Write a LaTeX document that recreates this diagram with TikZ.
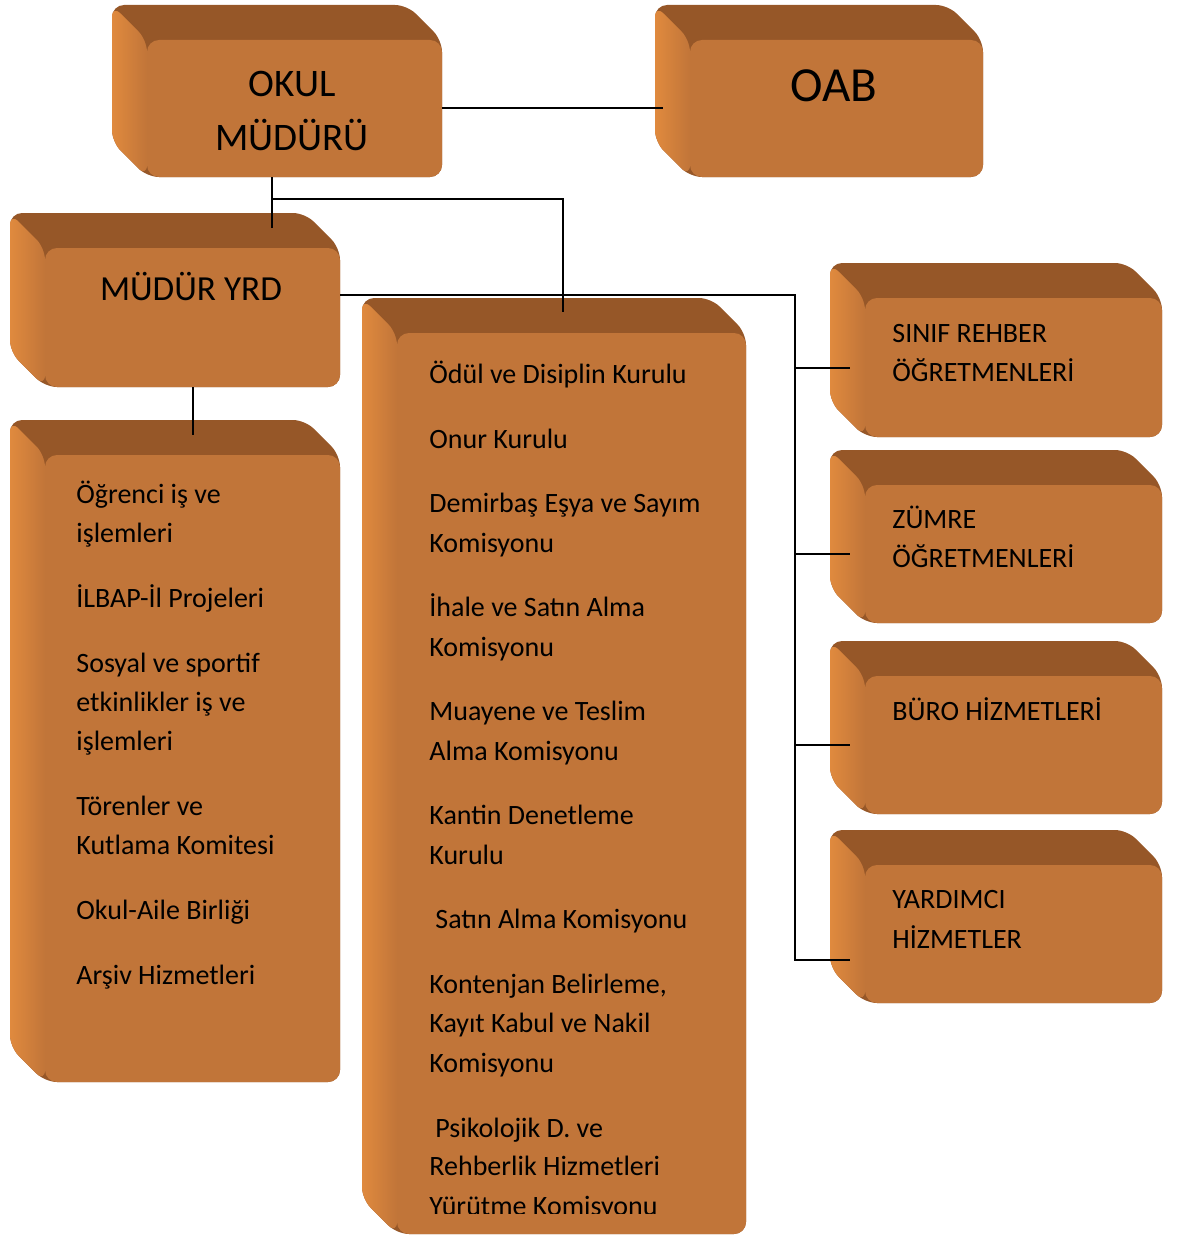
\documentclass[tikz,border=0pt]{standalone}
\usepackage{fontspec}
\setmainfont{Carlito}

\definecolor{frontc}{RGB}{193,117,57}
\definecolor{topc}{RGB}{150,87,40}
\definecolor{sidec}{RGB}{224,138,62}

\begin{document}
\begin{tikzpicture}[x=0.5pt, y=-0.5pt,
	face/.style={fill=frontc, rounded corners=6pt, inner sep=0pt},
	link/.style={line width=1pt},
	title/.style={font=\fontsize{19.5}{27}\selectfont, align=center, inner sep=0pt},
	item/.style={font=\fontsize{14}{19.75}\selectfont, anchor=base west, inner sep=0pt}]
	\useasboundingbox (0,0) rectangle (1186,1236);
	% boxes: back (top face), left face, front face
	\foreach \n/\xa/\ya/\xb/\yb in {okul/112/5/442/177, oab/655/5/983/177, yrd/10/213/340/387, lst/10/420/340/1082, kur/362/298/746/1234, sinif/830/263/1162/437, zumre/830/450/1162/623, buro/830/641/1162/814, yard/830/830/1162/1003} {
		\fill[topc, rounded corners=6pt] (\xa,\ya) -- (\xb-35,\ya) -- (\xb,\ya+35) -- (\xb,\yb) -- (\xa+35,\yb) -- (\xa,\yb-35) -- cycle;
		\shade[left color=sidec, right color=frontc, rounded corners=6pt] (\xa,\ya) -- (\xa+35,\ya+35) -- (\xa+35,\yb) -- (\xa,\yb-35) -- cycle;
		\node[face, minimum width={(\xb-\xa-35)*0.5pt}, minimum height={(\yb-\ya-35)*0.5pt}] (\n) at ({(\xa+35+\xb)/2},{(\ya+35+\yb)/2}) {};
	}
	% connectors
	\coordinate (j1) at (272,199);
	\coordinate (j4) at (563,199);
	\coordinate (j2) at (795,295);
	\coordinate (j3) at (795,960);
	\draw[link] (okul.east) -- ([xshift=-13.5pt]oab.west);
	\draw[link] (okul.south -| j1) -- ([yshift=10pt]j1 |- yrd.north);
	\draw[link] (j1) -- (j4) -- ([yshift=10.5pt]j4 |- kur.north);
	\draw[link] (yrd.south) -- ([yshift=10pt]lst.north);
	\draw[link] (yrd.east |- j2) -- (j2) -- (j3) -- ([xshift=-7.5pt]yard.west |- j3);
	\foreach \n in {sinif, zumre, buro}
		\draw[link] (j2 |- \n.west) -- ([xshift=-7.5pt]\n.west);
	% texts
	\node[title] (t-okul) at (292,111) {OKUL\\MÜDÜRÜ};
	\node[title, font=\fontsize{24.5}{30}\selectfont, anchor=base] (t-oab) at (834,102) {OAB};
	\node[title, font=\fontsize{17.6}{24}\selectfont, anchor=base] (t-yrd) at (191,300) {MÜDÜR YRD};
	\foreach \t/\x/\y [count=\i] in {Öğrenci iş ve/76/503, işlemleri/76/542, İLBAP-İl Projeleri/76/607, Sosyal ve sportif/76/672, etkinlikler iş ve/76/711, işlemleri/76/750, Törenler ve/76/815, Kutlama Komitesi/76/854, Okul-Aile Birliği/76/919, Arşiv Hizmetleri/76/984}
		\node[item] (lst-\i) at (\x,\y) {\t};
	\foreach \t/\x/\y [count=\i] in {Ödül ve Disiplin Kurulu/429/383, Onur Kurulu/429/448, Demirbaş Eşya ve Sayım/429/512, Komisyonu/429/552, İhale ve Satın Alma/429/616, Komisyonu/429/656, Muayene ve Teslim/429/720, Alma Komisyonu/429/760, Kantin Denetleme/429/824, Kurulu/429/864, Satın Alma Komisyonu/435/928, {Kontenjan Belirleme,}/429/993, Kayıt Kabul ve Nakil/429/1032, Komisyonu/429/1072, Psikolojik D. ve/435/1137, Rehberlik Hizmetleri/429/1175}
		\node[item] (kur-\i) at (\x,\y) {\t};
	\begin{scope}
		\clip (397,1000) rectangle (746,1213);
		\node[item] (kur-17) at (429,1215) {Yürütme Komisyonu};
	\end{scope}
	\foreach \t/\y [count=\i] in {SINIF REHBER/342, ÖĞRETMENLERİ/381, ZÜMRE/528, ÖĞRETMENLERİ/567, BÜRO HİZMETLERİ/720, YARDIMCI/908, HİZMETLER/948}
		\node[item] (sag-\i) at (892,\y) {\t};
\end{tikzpicture}
\end{document}
